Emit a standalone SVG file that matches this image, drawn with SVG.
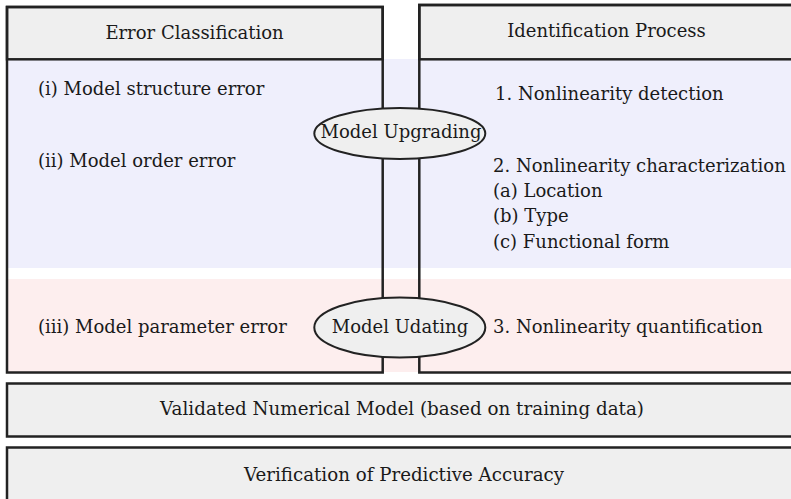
<svg xmlns="http://www.w3.org/2000/svg" width="791" height="499" viewBox="0 0 791 499">
<style>
.t{font-family:"DejaVu Serif","Liberation Serif",serif;font-size:18px;fill:#1a1a1a}
.c{text-anchor:middle}
.box{fill:none;stroke:#222;stroke-width:2.5}
.hdr{fill:#efefef;stroke:#222;stroke-width:2.5}
.ell{fill:#efefef;stroke:#222;stroke-width:2}
</style>
<rect width="791" height="499" fill="#fff"/>
<g id="bands">
<rect x="7" y="59" width="784" height="209" fill="#efeffc"/>
<rect x="7" y="279" width="784" height="93" fill="#fdeeee"/>
</g>
<g id="error-classification">
<rect class="hdr" x="7" y="7" width="375.7" height="52.3"/>
<rect class="box" x="7" y="7" width="375.7" height="365.5"/>
<text class="t c" x="194.5" y="39">Error Classification</text>
<text class="t" x="38" y="95">(i) Model structure error</text>
<text class="t" x="38" y="167">(ii) Model order error</text>
<text class="t" x="38" y="333">(iii) Model parameter error</text>
</g>
<g id="identification-process">
<rect class="hdr" x="419.3" y="5" width="400" height="54.3"/>
<rect class="box" x="419.3" y="5" width="400" height="367.5"/>
<text class="t c" x="606.5" y="37">Identification Process</text>
<text class="t" x="495" y="100">1. Nonlinearity detection</text>
<text class="t" x="493" y="172">2. Nonlinearity characterization</text>
<text class="t" x="493" y="197">(a) Location</text>
<text class="t" x="493" y="222">(b) Type</text>
<text class="t" x="493" y="248">(c) Functional form</text>
<text class="t" x="493" y="333">3. Nonlinearity quantification</text>
</g>
<g id="connectors"></g>
<g id="model-upgrading">
<ellipse class="ell" cx="399.8" cy="133.5" rx="85.5" ry="25.5"/>
<text class="t c" x="401" y="138">Model Upgrading</text>
</g>
<g id="model-updating">
<ellipse class="ell" cx="399.8" cy="327.5" rx="85.5" ry="30"/>
<text class="t c" x="400" y="333">Model Udating</text>
</g>
<g id="validated-model">
<rect class="hdr" x="7" y="383.5" width="800" height="53"/>
<text class="t c" x="402" y="415" textLength="484" lengthAdjust="spacingAndGlyphs">Validated Numerical Model (based on training data)</text>
</g>
<g id="verification">
<rect class="hdr" x="7" y="447.5" width="800" height="70"/>
<text class="t c" x="404" y="481" textLength="320" lengthAdjust="spacingAndGlyphs">Verification of Predictive Accuracy</text>
</g>
</svg>
